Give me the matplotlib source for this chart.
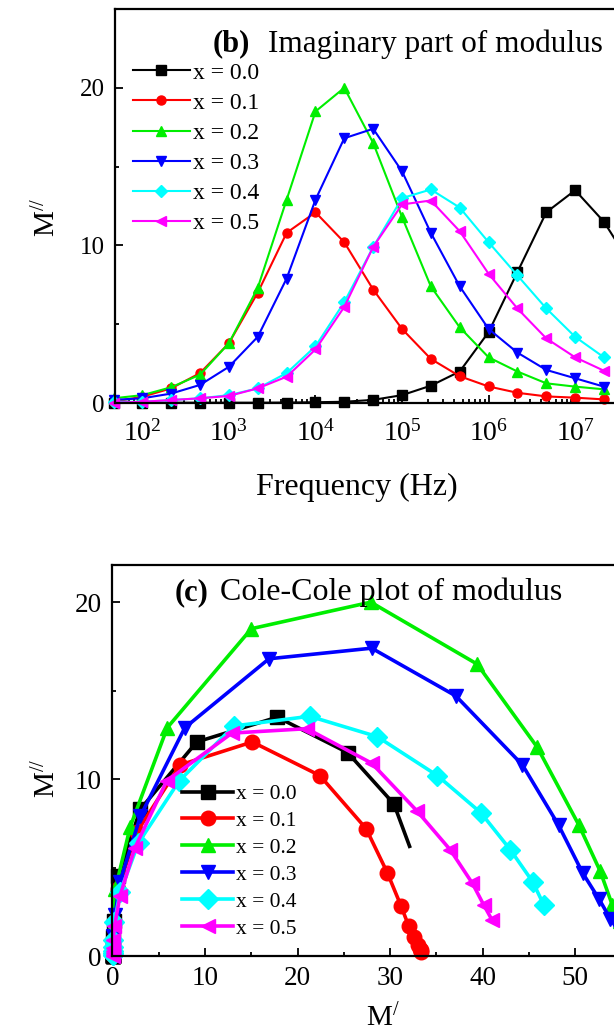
#
# -*- coding: utf-8 -*-
#

"""
Electric modulus: M'' vs frequency and Cole-Cole plot
"""

import numpy as np
import matplotlib.pyplot as plt
from matplotlib.ticker import MultipleLocator, FixedLocator, NullFormatter

plt.rcParams['font.family'] = ['Liberation Serif', 'DejaVu Serif']
plt.rcParams['mathtext.fontset'] = 'custom'
plt.rcParams['mathtext.rm'] = 'Liberation Serif'
plt.rcParams['mathtext.it'] = 'Liberation Serif:italic'
plt.rcParams['mathtext.bf'] = 'Liberation Serif:bold'

# frequency points in Hz (three per decade)
freq = np.array([46.4, 100, 215, 464, 1.0e3, 2.15e3, 4.64e3, 1.0e4, 2.15e4,
                 4.64e4, 1.0e5, 2.15e5, 4.64e5, 1.0e6, 2.15e6, 4.64e6, 1.0e7,
                 2.15e7, 4.64e7, 1.0e8])
freq_ticks = [1e2, 1e3, 1e4, 1e5, 1e6, 1e7]
freq_tick_labels = [r'$10^{2}$', r'$10^{3}$', r'$10^{4}$', r'$10^{5}$',
                    r'$10^{6}$', r'$10^{7}$']

labels = ['x = 0.0', 'x = 0.1', 'x = 0.2', 'x = 0.3', 'x = 0.4', 'x = 0.5']
colors = ['#000000', '#ff0000', '#00ee00', '#0000ff', '#00ffff', '#ff00ff']
markers = ['s', 'o', '^', 'v', 'D', '<']

# imaginary part M''
m2_00 = [0.02, 0.02, 0.02, 0.02, 0.02, 0.02, 0.03, 0.05, 0.08, 0.2, 0.5, 1.1,
         2.0, 4.5, 8.3, 12.1, 13.5, 11.5, 8.6, 6.2]
m2_01 = [0.08, 0.4, 0.93, 1.9, 3.8, 7.0, 10.8, 12.1, 10.2, 7.2, 4.7, 2.8, 1.7,
         1.05, 0.65, 0.42, 0.34, 0.23]
m2_02 = [0.3, 0.5, 1.0, 1.8, 3.8, 7.3, 12.9, 18.5, 20.0, 16.5, 11.8, 7.4, 4.8,
         2.9, 2.0, 1.25, 1.04, 0.87]
m2_03 = [0.2, 0.3, 0.6, 1.15, 2.3, 4.2, 7.9, 12.9, 16.8, 17.4, 14.7, 10.8, 7.4,
         4.7, 3.2, 2.1, 1.57, 1.04]
m2_04 = [0.08, 0.08, 0.19, 0.3, 0.5, 0.93, 1.9, 3.6, 6.4, 9.9, 13.0, 13.55,
         12.4, 10.2, 8.1, 6.0, 4.2, 2.9]
m2_05 = [0.02, 0.08, 0.19, 0.3, 0.45, 0.93, 1.67, 3.4, 6.1, 9.9, 12.6, 12.85,
         10.9, 8.2, 6.0, 4.1, 2.9, 2.05]

# real part M'
m1_00 = [0, 0, 0, 0, 0, 0, 0, 0, 0, 0.01, 0.02, 0.05, 0.15, 0.6, 3.0, 9.1,
         17.8, 25.4, 30.4, 32.1]
m1_01 = [0, 0.01, 0.04, 0.15, 0.6, 2.6, 7.3, 15.1, 22.4, 27.4, 29.7, 31.2,
         32.0, 32.6, 33.0, 33.2, 33.3, 33.35]
m1_02 = [0, 0.01, 0.03, 0.1, 0.3, 1.9, 5.9, 15.0, 27.9, 39.4, 45.9, 50.4,
         52.7, 54.0, 54.8, 55.3, 55.6, 55.8]
m1_03 = [0, 0.01, 0.02, 0.08, 0.26, 0.8, 3.0, 7.8, 16.9, 28.0, 37.1, 44.3,
         48.2, 50.8, 52.6, 53.8, 54.6, 55.3]
m1_04 = [0, 0, 0, 0.01, 0.02, 0.06, 0.2, 0.8, 2.8, 7.2, 13.1, 21.3, 28.6,
         35.1, 39.8, 43.0, 45.4, 46.6]
m1_05 = [0, 0, 0, 0.01, 0.02, 0.06, 0.2, 0.8, 2.4, 5.85, 12.9, 21.0, 28.0,
         32.9, 36.5, 38.9, 40.1, 41.0]

m2_all = [m2_00, m2_01, m2_02, m2_03, m2_04, m2_05]
m1_all = [m1_00, m1_01, m1_02, m1_03, m1_04, m1_05]

fig = plt.figure(figsize=(6.14, 10.35), dpi=100)

# axes run past the right edge of the figure, as in the source image
ax1 = fig.add_axes([0.1868, 0.6106, 0.8627, 0.3807])
ax2 = fig.add_axes([0.1819, 0.0763, 0.8679, 0.3778])

# ---- (b) imaginary part vs frequency
for m2, c, mk, lab in zip(m2_all, colors, markers, labels):
    ax1.plot(freq[:len(m2)], m2, color=c, marker=mk, markersize=6.5,
             linewidth=1.5, label=lab, clip_on=False)

ax1.set_xscale('log')
ax1.set_xlim(10**1.68, 10**7.8)
ax1.set_ylim(0, 25)
ax1.yaxis.set_major_locator(MultipleLocator(10))
ax1.yaxis.set_minor_locator(MultipleLocator(5))
ax1.set_xticks(freq_ticks, freq_tick_labels)
minor_f = [m * 10.0**e for e in range(1, 8) for m in range(2, 10)]
ax1.xaxis.set_minor_locator(FixedLocator(minor_f))
ax1.xaxis.set_minor_formatter(NullFormatter())
ax1.tick_params(axis='y', labelsize=18, pad=7)
ax1.tick_params(axis='x', labelsize=20, pad=12)

ax1.legend(loc='upper left', bbox_to_anchor=(0.0345, 0.865), frameon=False,
           fontsize=17, handlelength=2.4, handletextpad=0.15,
           labelspacing=0.36, borderpad=0, borderaxespad=0, numpoints=1)

ax1.text(0.1856, 0.8916, '(b)', transform=ax1.transAxes, fontsize=22,
         fontweight='bold', va='baseline')
ax1.text(0.2894, 0.8916, 'Imaginary part of modulus', transform=ax1.transAxes,
         fontsize=22.5, va='baseline')

fig.text(47.5/614, 1 - 217/1035, r'M$^{//}$', rotation=90, fontsize=21,
         ha='center', va='center')
fig.text(357/614, 1 - 487/1035, 'Frequency (Hz)', fontsize=23,
         ha='center', va='center')

# ---- (c) Cole-Cole plot
for m1, m2, c, mk, lab in zip(m1_all, m2_all, colors, markers, labels):
    every = list(range(len(m1) - 1)) if len(m1) > 18 else None
    ax2.plot(m1, m2, color=c, marker=mk, markersize=10.5, linewidth=2.6,
             label=lab, markevery=every, clip_on=False)

ax2.set_xlim(-0.1, 57.5)
ax2.set_ylim(0, 22.1)
ax2.xaxis.set_major_locator(MultipleLocator(10))
ax2.xaxis.set_minor_locator(MultipleLocator(5))
ax2.yaxis.set_major_locator(MultipleLocator(10))
ax2.yaxis.set_minor_locator(MultipleLocator(5))
ax2.tick_params(axis='both', labelsize=19.5, pad=7)

ax2.legend(loc='upper left', bbox_to_anchor=(0.1314, 0.44), frameon=False,
           fontsize=15.5, handlelength=2.4, handletextpad=0.1,
           labelspacing=0.32, borderpad=0, borderaxespad=0, numpoints=1)

ax2.text(0.1188, 0.9105, '(c)', transform=ax2.transAxes, fontsize=22,
         fontweight='bold', va='baseline')
ax2.text(0.2032, 0.9105, 'Cole-Cole plot of modulus', transform=ax2.transAxes,
         fontsize=23, va='baseline')

fig.text(47.5/614, 1 - 778/1035, r'M$^{//}$', rotation=90, fontsize=21,
         ha='center', va='center')
fig.text(383/614, 1 - 1018/1035, r'M$^{/}$', fontsize=21,
         ha='center', va='center')

for ax in (ax1, ax2):
    ax.spines['right'].set_visible(False)
    for s in ax.spines.values():
        s.set_linewidth(1.6)
    ax.tick_params(which='both', direction='in', width=1.3)
    ax.tick_params(which='major', length=6)
    ax.tick_params(which='minor', length=3)

fig.savefig('out.png', dpi=100)
